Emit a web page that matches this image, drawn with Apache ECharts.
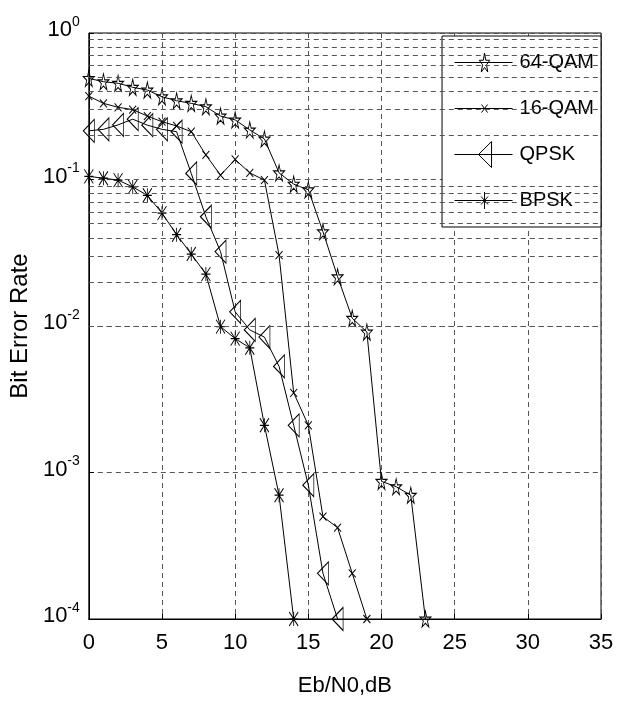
<!DOCTYPE html>
<html>
<head>
<meta charset="utf-8">
<script src="https://cdn.jsdelivr.net/npm/echarts@6.0.0/dist/echarts.min.js"></script>
<style>
  html, body { margin: 0; padding: 0; background: #fff; }
  #chart { width: 625px; height: 702px; }
</style>
</head>
<body>
<div id="chart"></div>
<script>
// Eb/N0 (dB) and BER per modulation
const snrQam64 = [0, 1, 2, 3, 4, 5, 6, 7, 8, 9, 10, 11, 12, 13, 14, 15, 16, 17, 18, 19, 20, 21, 22, 23];
const berQam64 = [0.49, 0.465, 0.454, 0.426, 0.408, 0.367, 0.345, 0.331, 0.314, 0.271, 0.255, 0.218,
  0.189, 0.111, 0.093, 0.085, 0.044, 0.0217, 0.0113, 0.0091, 0.00087, 0.0008, 0.0007, 0.0001];

const snrQam16 = [0, 1, 2, 3, 4, 5, 6, 7, 8, 9, 10, 11, 12, 13, 14, 15, 16, 17, 18, 19];
const berQam16 = [0.371, 0.331, 0.311, 0.30, 0.271, 0.248, 0.232, 0.212, 0.147, 0.107, 0.137, 0.111,
  0.099, 0.0305, 0.0035, 0.0021, 0.0005, 0.00042, 0.000205, 0.0001];

const snrQpsk = [0, 1, 2, 3, 4, 5, 6, 7, 8, 9, 10, 11, 12, 13, 14, 15, 16, 17];
const berQpsk = [0.215, 0.22, 0.236, 0.258, 0.235, 0.22, 0.212, 0.11, 0.0557, 0.0322, 0.0125, 0.0094,
  0.0084, 0.0053, 0.0021, 0.00082, 0.000205, 0.0001];

const snrBpsk = [0, 1, 2, 3, 4, 5, 6, 7, 8, 9, 10, 11, 12, 13, 14];
const berBpsk = [0.105, 0.102, 0.099, 0.089, 0.078, 0.059, 0.042, 0.031, 0.0226, 0.0099, 0.0082,
  0.0071, 0.0021, 0.0007, 0.0001];

const seriesNames = ["64-QAM", "16-QAM", "QPSK", "BPSK"];
const decades = [1e-4, 1e-3, 1e-2, 1e-1, 1];
const minorSteps = [2, 3, 4, 5, 6, 7, 8, 9];

const FONT = '"Liberation Sans", Arial, sans-serif';

// minor log grid lines (2..9 x each decade)
const minorGrid = [];
decades.slice(0, 4).forEach(function (d) {
  minorSteps.forEach(function (m) { minorGrid.push({ yAxis: m * d }); });
});

function pairs(xs, ys) {
  return xs.map(function (x, i) { return [x, ys[i]]; });
}

// hollow marker shapes, matlab style
const starPath = "path://M10,0 L12.25,6.91 L19.51,6.91 L13.63,11.18 L15.88,18.09 L10,13.82 L4.12,18.09 L6.37,11.18 L0.49,6.91 L7.76,6.91 Z";
const crossPath = "path://M0,0 L10,10 M10,0 L0,10";
const triPath = "path://M0,10 L10,0 L10,20 Z";
const astPath = "path://M5,0 L5,10 M0,5 L10,5 M0,0 L10,10 M10,0 L0,10";

// legend icons: line + marker in a 60x28 box
const legendBox = "path://M0,0 M60,28 M0,14 L58,14 ";
const legendIcons = [
  legendBox + "M30,4.5 L31.24,11.76 L35.23,11.76 L32,16.24 L33.23,23.5 L30,19.01 L26.77,23.5 L28,16.24 L24.77,11.76 L28.77,11.76 Z",
  legendBox + "M27,10 L33,18 M33,10 L27,18",
  legendBox + "M24,14 L37,1 L37,27 Z",
  legendBox + "M30,5.5 L30,22.5 M26.5,10 L33.5,18 M33.5,10 L26.5,18 M26.5,14 L33.5,14"
];

const markerStyle = { color: "transparent", borderColor: "#000", borderWidth: 1 };
const lineStyle = { color: "#000", width: 1 };

function makeSeries(name, data, symbol, size) {
  return {
    name: name,
    type: "line",
    data: data,
    symbol: symbol,
    symbolSize: size,
    showAllSymbol: true,
    itemStyle: markerStyle,
    lineStyle: lineStyle,
    emphasis: { disabled: true },
    z: 3
  };
}

const chart = echarts.init(document.getElementById("chart"));

const series = [
  makeSeries(seriesNames[0], pairs(snrQam64, berQam64), starPath, [11, 16]),
  makeSeries(seriesNames[1], pairs(snrQam16, berQam16), crossPath, [7, 8]),
  makeSeries(seriesNames[2], pairs(snrQpsk, berQpsk), triPath, [11, 23]),
  makeSeries(seriesNames[3], pairs(snrBpsk, berBpsk), astPath, [9, 14])
];

series[0].markLine = {
  silent: true,
  symbol: ["none", "none"],
  label: { show: false },
  lineStyle: { color: "#555", type: [5, 4], width: 1 },
  data: minorGrid,
  animation: false
};

const option = {
  animation: false,
  backgroundColor: "#fff",
  grid: {
    left: 82,
    right: 24,
    top: 33,
    bottom: 83,
    show: true,
    borderColor: "#000",
    borderWidth: 1
  },
  legend: {
    orient: "vertical",
    right: 24,
    top: 36,
    itemWidth: 60,
    itemHeight: 28,
    itemGap: 17,
    padding: [12, 7, 12, 12],
    backgroundColor: "#fff",
    borderColor: "#000",
    borderWidth: 1,
    borderRadius: 0,
    selectedMode: false,
    itemStyle: { borderWidth: 1 },
    textStyle: { fontFamily: FONT, fontSize: 20, color: "#000" },
    data: seriesNames.map(function (n, i) { return { name: n, icon: legendIcons[i] }; })
  },
  xAxis: {
    type: "value",
    min: 0,
    max: 35,
    interval: 5,
    name: "Eb/N0,dB",
    nameLocation: "middle",
    nameGap: 56,
    nameTextStyle: { fontFamily: FONT, fontSize: 22, color: "#000" },
    axisLine: { lineStyle: { color: "#000", width: 1 } },
    axisTick: { inside: true, length: 5, lineStyle: { color: "#000" } },
    axisLabel: { fontFamily: FONT, fontSize: 22, color: "#000", margin: 13 },
    splitLine: { show: true, lineStyle: { color: "#555", type: [5, 4], width: 1 } }
  },
  yAxis: {
    type: "log",
    logBase: 10,
    min: decades[0],
    max: decades[decades.length - 1],
    name: "Bit Error Rate",
    nameLocation: "middle",
    nameGap: 48,
    nameTextStyle: { fontFamily: FONT, fontSize: 24, color: "#000" },
    axisLine: { lineStyle: { color: "#000", width: 1 } },
    axisTick: { inside: true, length: 5, lineStyle: { color: "#000" } },
    axisLabel: {
      margin: 9,
      formatter: function (v) {
        const e = Math.round(Math.log10(v));
        return "{b|10}{s|" + e + "}";
      },
      rich: {
        b: { fontFamily: FONT, fontSize: 22, lineHeight: 22, color: "#000", padding: [0, 0, 6, 0] },
        s: { fontFamily: FONT, fontSize: 14, lineHeight: 14, color: "#000", padding: [0, 0, 22, 0] }
      }
    },
    splitLine: { show: true, lineStyle: { color: "#555", type: [5, 4], width: 1 } },
    minorTick: { show: false },
    minorSplitLine: { show: false }
  },
  series: series
};

chart.setOption(option);
</script>
</body>
</html>
